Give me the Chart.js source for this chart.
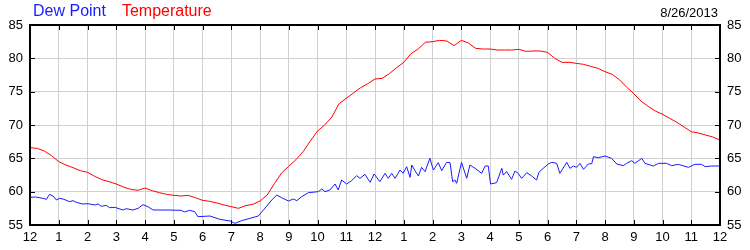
<!DOCTYPE html>
<html>
<head>
<meta charset="utf-8">
<script src="https://cdn.jsdelivr.net/npm/chart.js@4/dist/chart.umd.min.js"></script>
<style>
  html, body { margin: 0; padding: 0; background: #fff; }
  #wrap { position: relative; width: 750px; height: 250px; font-family: "Liberation Sans", Arial, sans-serif; }
  #hdr-left { position: absolute; left: 33px; top: 2px; font-size: 16px; white-space: nowrap; }
  #hdr-left .dew { color: #1a1aff; }
  #hdr-left .tmp { color: #ff0000; margin-left: 16px; }
  #hdr-date { position: absolute; right: 32px; top: 5px; font-size: 13px; color: #000; }
  canvas { position: absolute; left: 0; top: 0; }
</style>
</head>
<body>
<div id="wrap">
  <canvas id="c" width="750" height="250"></canvas>
  <div id="hdr-left"><span class="dew">Dew Point</span><span class="tmp">Temperature</span></div>
  <div id="hdr-date">8/26/2013</div>
</div>
<script>
// Tick labels / axis values
const hourTicks = [0,1,2,3,4,5,6,7,8,9,10,11,12,13,14,15,16,17,18,19,20,21,22,23,24];
const hourLabels = ["12","1","2","3","4","5","6","7","8","9","10","11","12","1","2","3","4","5","6","7","8","9","10","11","12"];
const tempTicks = [55,60,65,70,75,80,85];

// Temperature, every 15 minutes from midnight (hours 0..24)
const temperature = [
  66.6,66.5,66.1,65.4,64.5,64.0,63.6,63.15,62.9,62.3,61.8,61.5,
  61.15,60.7,60.35,60.2,60.55,60.15,59.85,59.6,59.45,59.35,59.45,59.1,
  58.7,58.55,58.3,58.0,57.75,57.5,57.9,58.1,58.6,59.5,61.2,62.8,
  63.8,64.8,66.0,67.6,69.1,70.0,71.2,73.2,74.0,74.8,75.6,76.2,
  76.9,77.0,77.7,78.6,79.4,80.7,81.4,82.4,82.5,82.7,82.6,81.9,
  82.7,82.3,81.5,81.4,81.4,81.25,81.25,81.25,81.35,81.05,81.1,81.1,
  80.9,80.0,79.4,79.4,79.25,79.1,78.8,78.5,78.0,77.6,76.8,75.7,
  74.7,73.6,72.8,72.1,71.6,71.0,70.4,69.7,69.0,68.8,68.5,68.2,
  67.75
];
const tempHours = temperature.map((_, i) => i / 4);

// Dew point readings (hour of day, value)
const dewHours = [
  0.0,0.2,0.45,0.57,0.68,0.8,0.92,1.03,1.15,1.38,1.5,1.61,1.84,2.02,2.25,2.37,2.48,2.65,2.77,2.95,
  3.23,3.35,3.47,3.58,3.76,3.93,4.1,4.28,4.8,5.26,5.38,5.55,5.73,5.84,6.26,6.6,6.96,7.13,7.36,7.65,
  7.94,8.12,8.41,8.58,8.75,8.99,9.16,9.28,9.45,9.68,10.03,10.15,10.26,10.43,10.61,10.72,10.84,11.01,11.19,11.36,
  11.48,11.65,11.83,11.97,12.17,12.35,12.46,12.58,12.7,12.87,12.98,13.1,13.22,13.28,13.39,13.51,13.62,13.74,13.91,14.03,
  14.2,14.32,14.49,14.61,14.7,14.78,14.84,15.01,15.19,15.3,15.48,15.71,15.83,15.94,16.02,16.23,16.41,16.46,16.58,16.75,
  16.87,16.98,17.1,17.28,17.45,17.62,17.7,17.85,18.03,18.15,18.32,18.43,18.67,18.78,18.9,19.01,19.13,19.25,19.42,19.54,
  19.6,19.77,20.0,20.23,20.41,20.64,20.75,20.93,21.04,21.28,21.39,21.68,21.86,22.14,22.32,22.55,22.9,23.13,23.36,23.48,
  23.71,24.0
];
const dewPoint = [
  59.15,59.2,59.0,58.85,59.6,59.35,58.75,59.0,58.9,58.5,58.65,58.4,58.15,58.2,58.0,58.15,57.8,57.95,57.6,57.65,
  57.25,57.45,57.35,57.25,57.5,58.05,57.75,57.25,57.25,57.2,56.95,57.2,57.0,56.25,56.35,55.85,55.6,55.25,55.65,56.0,
  56.35,57.25,58.75,59.5,59.1,58.6,58.9,58.65,59.25,59.85,60.0,60.4,60.0,60.25,61.15,60.25,61.75,61.15,61.65,62.4,
  62.0,62.6,61.4,62.65,61.5,62.75,62.0,62.75,62.0,63.25,62.75,63.75,62.15,64.0,63.15,62.35,63.65,63.0,65.0,63.25,
  64.35,63.15,64.4,64.35,61.5,61.75,61.25,64.4,62.0,64.0,63.5,62.75,63.85,63.85,61.15,61.35,63.5,62.5,63.0,61.85,
  63.1,62.75,62.0,62.85,62.35,61.75,62.9,63.5,64.15,64.4,64.25,62.75,64.4,63.5,63.85,63.65,64.25,63.35,64.15,64.2,
  65.25,65.1,65.35,65.0,64.15,63.9,64.25,64.65,64.25,65.0,64.25,63.85,64.25,64.25,63.9,64.1,63.65,64.1,64.1,63.75,
  63.85,63.85
];

const framePlugin = {
  id: 'frameTicks',
  afterDatasetsDraw(chart) {
    const { ctx, chartArea, scales } = chart;
    const { left, right, top, bottom } = chartArea;
    const xs = scales.x, ys = scales.y;
    ctx.save();
    ctx.strokeStyle = '#000';
    ctx.lineWidth = 1;
    ctx.beginPath();
    hourTicks.forEach(v => {
      const px = Math.round(xs.getPixelForValue(v)) + 0.5;
      ctx.moveTo(px, top); ctx.lineTo(px, top + 5);
      ctx.moveTo(px, bottom); ctx.lineTo(px, bottom - 5);
    });
    tempTicks.forEach(v => {
      const py = Math.round(ys.getPixelForValue(v)) + 0.5;
      ctx.moveTo(left, py); ctx.lineTo(left + 5, py);
      ctx.moveTo(right, py); ctx.lineTo(right - 5, py);
    });
    ctx.stroke();
    ctx.lineWidth = 2;
    ctx.strokeRect(left, top, right - left, bottom - top);
    ctx.restore();
  }
};

const tickFont = { family: "'Liberation Sans', Arial, sans-serif", size: 13 };

new Chart(document.getElementById('c'), {
  type: 'line',
  data: {
    datasets: [
      {
        label: 'Temperature',
        data: tempHours.map((h, i) => ({ x: h, y: temperature[i] })),
        borderColor: '#ff0000',
        borderWidth: 1,
        pointRadius: 0,
        tension: 0,
        yAxisID: 'y'
      },
      {
        label: 'Dew Point',
        data: dewHours.map((h, i) => ({ x: h, y: dewPoint[i] })),
        borderColor: '#1a1aff',
        borderWidth: 1,
        pointRadius: 0,
        tension: 0,
        yAxisID: 'y'
      }
    ]
  },
  options: {
    responsive: false,
    animation: false,
    layout: { padding: { top: 25, left: 0, right: 0, bottom: 0 } },
    plugins: { legend: { display: false }, title: { display: false }, tooltip: { enabled: false } },
    scales: {
      x: {
        type: 'linear',
        min: 0, max: 24,
        afterBuildTicks: (s) => { s.ticks = hourTicks.map(v => ({ value: v })); },
        afterFit: (s) => { s.height = 25; },
        grid: { color: '#d0d0d0', drawTicks: false, lineWidth: 1 },
        border: { display: false },
        ticks: {
          autoSkip: false, maxRotation: 0, padding: 5, color: '#000', font: tickFont,
          callback: (v, i) => hourLabels[hourTicks.indexOf(v)]
        }
      },
      y: {
        position: 'left',
        min: 55, max: 85,
        afterBuildTicks: (s) => { s.ticks = tempTicks.map(v => ({ value: v })); },
        afterFit: (s) => { s.width = 30; },
        grid: { color: '#d0d0d0', drawTicks: false, lineWidth: 1 },
        border: { display: false },
        ticks: { padding: 7, color: '#000', font: tickFont }
      },
      y2: {
        position: 'right',
        min: 55, max: 85,
        afterBuildTicks: (s) => { s.ticks = tempTicks.map(v => ({ value: v })); },
        afterFit: (s) => { s.width = 30; },
        grid: { display: false, drawTicks: false },
        border: { display: false },
        ticks: { padding: 7, color: '#000', font: tickFont }
      }
    }
  },
  plugins: [framePlugin]
});
</script>
</body>
</html>
